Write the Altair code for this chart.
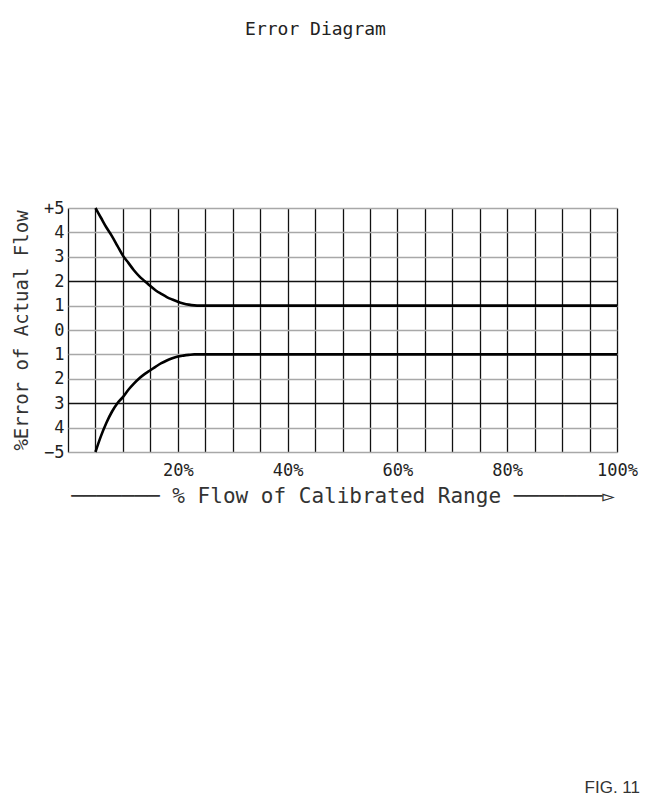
import altair as alt
import pandas as pd

# ---- data ----
flow_pct = [5, 6, 7, 8, 9, 10, 11, 12, 13, 14, 15, 16, 17, 18, 19, 20, 21, 22, 23, 24, 25, 100]
upper_err = [5.0, 4.6, 4.2, 3.85, 3.45, 3.05, 2.75, 2.45, 2.2, 2.0, 1.8, 1.62, 1.48, 1.35,
             1.25, 1.16, 1.09, 1.04, 1.01, 1.0, 1.0, 1.0]
lower_err = [-5.0, -4.35, -3.8, -3.35, -3.0, -2.75, -2.45, -2.2, -1.98, -1.8, -1.65, -1.5,
             -1.36, -1.25, -1.16, -1.09, -1.05, -1.02, -1.0, -1.0, -1.0, -1.0]
x_ticks = list(range(0, 101, 5))
y_ticks = list(range(-5, 6))
fig_label = ["FIG. 11"]

n = len(flow_pct)
df = pd.DataFrame({
    "flow": flow_pct + flow_pct,
    "err": upper_err + lower_err,
    "band": ["upper"] * n + ["lower"] * n,
})

FONT = "DejaVu Sans Mono"
TXT = "#222222"
x_title = ("\u2500" * 7) + "  % Flow of Calibrated Range " + ("\u2500" * 7) + "\u25bb"

lines = alt.Chart(df).mark_line(color="black", strokeWidth=2.6, interpolate="monotone").encode(
    x=alt.X(
        "flow:Q",
        scale=alt.Scale(domain=[0, 100], nice=False, zero=False),
        axis=alt.Axis(
            values=x_ticks,
            title=x_title,
            labelExpr="datum.value % 20 == 0 && datum.value > 0 ? datum.value + '%' : ''",
            grid=True, gridColor="#111111", gridWidth=1.3,
            ticks=False, domain=False, labelFlush=False, labelOverlap=False,
            labelFont=FONT, labelFontSize=17, labelColor=TXT, labelPadding=10,
            titleFont=FONT, titleFontSize=21, titleFontWeight="normal", titleColor="#333333",
            titlePadding=7,
        ),
    ),
    y=alt.Y(
        "err:Q",
        scale=alt.Scale(domain=[-5, 5], nice=False, zero=False),
        axis=alt.Axis(
            values=y_ticks,
            title="%Error of Actual Flow",
            labelExpr="datum.value == 5 ? '+5' : datum.value == -5 ? '\u22125' : '' + abs(datum.value)",
            grid=True,
            gridColor={"condition": {"test": "datum.value == 2 || datum.value == -3", "value": "#111111"},
                       "value": "#a8a8a8"},
            gridWidth=1.6,
            ticks=False, domain=False, labelFlush=False, labelOverlap=False,
            labelFont=FONT, labelFontSize=17, labelColor=TXT, labelPadding=4,
            titleFont=FONT, titleFontSize=19, titleFontWeight="normal", titleColor="#333333",
            titlePadding=12,
        ),
    ),
    detail="band:N",
)

fig = alt.Chart(pd.DataFrame({"label": fig_label})).mark_text(
    align="right", baseline="middle", font="Liberation Sans", fontSize=17, color="#333333"
).encode(x=alt.value(572), y=alt.value(580), text="label:N")

chart = alt.layer(lines, fig).properties(
    width=549,
    height=244,
    autosize=alt.AutoSizeParams(type="none"),
    padding={"left": 60, "top": 200, "right": 23, "bottom": 351},
    title=alt.TitleParams("Error Diagram", font=FONT, fontSize=18, fontWeight="normal",
                          color=TXT, anchor="middle", dx=-27, offset=160),
).configure_view(stroke=None).configure(background="white")

chart.save("out.html", embed_options={"renderer": "svg", "actions": False})
